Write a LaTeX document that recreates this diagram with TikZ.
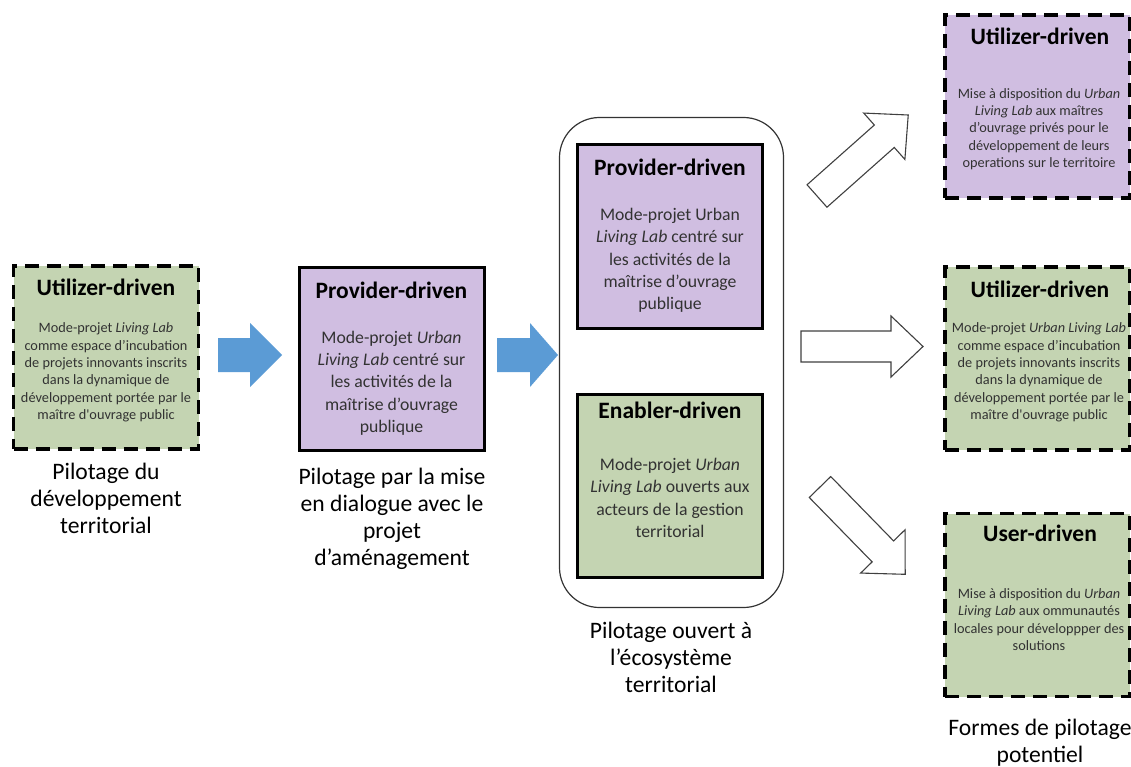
\documentclass[tikz,border=0pt]{standalone}
\usepackage{fontspec}
\setmainfont{Carlito}
\definecolor{boxgreen}{RGB}{196,212,178}
\definecolor{boxpurple}{RGB}{208,190,225}
\definecolor{arrowblue}{RGB}{91,155,213}
\definecolor{bodygray}{RGB}{50,50,50}
\begin{document}
\begin{tikzpicture}[x=1pt,y=-1pt,
  box/.style={draw=black, line width=3pt, inner sep=0pt, minimum width=185pt, minimum height=183pt},
  dbox/.style={box, line width=3.5pt, dash pattern=on 14pt off 8pt},
  gfill/.style={fill=boxgreen},
  pfill/.style={fill=boxpurple},
  head/.style={font=\fontsize{23.5}{28}\selectfont\bfseries, text=black, inner sep=0pt},
  bodys/.style={font=\fontsize{14.3}{17.3}\selectfont, text=bodygray, align=center, inner sep=0pt},
  bodyl/.style={font=\fontsize{17.7}{22.3}\selectfont, text=bodygray, align=center, inner sep=0pt},
  lab/.style={font=\fontsize{23.6}{27}\selectfont, text=black, align=center, inner sep=0pt},
  harrow/.style={draw=black!75, line width=1.1pt, fill=white, line join=miter},
  barrow/.style={fill=arrowblue}
]
\useasboundingbox (0,0) rectangle (1131,767);

% container
\node[draw=black!80, line width=1.2pt, rounded corners=40pt, minimum width=224pt, minimum height=490pt] (cont) at (671.5,362.5) {};

% boxes
\node[dbox, gfill] (b1) at (106,357.5) {};
\node[box, pfill] (b2) at (391.5,359) {};
\node[box, pfill] (b3) at (670,236.5) {};
\node[box, gfill] (b4) at (670,486) {};
\node[dbox, pfill] (tr) at (1037.5,106.5) {};
\node[dbox, gfill] (mr) at (1037.5,358.5) {};
\node[dbox, gfill] (br) at (1037.5,605) {};

% headings
\node[head] (h1) at (106,287) {Utilizer-driven};
\node[head] (h2) at (391.5,290) {Provider-driven};
\node[head] (h3) at (670,167) {Provider-driven};
\node[head] (h4) at (670,410) {Enabler-driven};
\node[head] (h5) at (1040,36) {Utilizer-driven};
\node[head] (h6) at (1040,289) {Utilizer-driven};
\node[head] (h7) at (1040,533) {User-driven};

% bodies
\node[bodys] (t1) at (106,372.5) {Mode-projet \textit{Living Lab}\\comme espace d’incubation\\de projets innovants inscrits\\dans la dynamique de\\développement portée par le\\maître d\textquotesingle ouvrage public};
\node[bodyl] (t2) at (391.5,383) {Mode-projet \textit{Urban}\\\textit{Living Lab} centré sur\\les activités de la\\maîtrise d’ouvrage\\publique};
\node[bodyl] (t3) at (670,260.5) {Mode-projet Urban\\\textit{Living Lab} centré sur\\les activités de la\\maîtrise d’ouvrage\\publique};
\node[bodyl] (t4) at (670,498) {Mode-projet \textit{Urban}\\\textit{Living Lab} ouverts aux\\acteurs de la gestion\\territorial};
\node[bodys] (t5) at (1039,129) {Mise à disposition du \textit{Urban}\\\textit{Living Lab} aux maîtres\\d’ouvrage privés pour le\\développement de leurs\\operations sur le territoire};
\node[bodys] (t6) at (1039,372.5) {Mode-projet \textit{Urban Living Lab}\\comme espace d’incubation\\de projets innovants inscrits\\dans la dynamique de\\développement portée par le\\maître d\textquotesingle ouvrage public};
\node[bodys] (t7) at (1039,619.5) {Mise à disposition du \textit{Urban}\\\textit{Living Lab} aux ommunautés\\locales pour développper des\\solutions};

% labels
\node[lab] (l1) at (106,498) {Pilotage du\\développement\\territorial};
\node[lab] (l2) at (392,519) {Pilotage par la mise\\en dialogue avec le\\projet\\d’aménagement};
\node[lab] (l3) at (671,657) {Pilotage ouvert à\\l’écosystème\\territorial};
\node[lab] (l4) at (1040,743) {Formes de pilotage\\potentiel};

% blue arrows
\fill[barrow] (218,338) -- (250,338) -- (250,323) -- (282,355) -- (250,387) -- (250,372) -- (218,372) -- cycle;
\fill[barrow] (497,338) -- (530,338) -- (530,323) -- (558,355) -- (530,387) -- (530,372) -- (497,372) -- cycle;

% hollow arrows
\draw[harrow, shift={(817,196)}, rotate=41.6] (0,-15) -- (90,-15) -- (90,-31) -- (122,0) -- (90,31) -- (90,15) -- (0,15) -- cycle;
\draw[harrow, shift={(801,346.5)}] (0,-15.5) -- (90,-15.5) -- (90,-30.5) -- (122,0) -- (90,30.5) -- (90,15.5) -- (0,15.5) -- cycle;
\draw[harrow, shift={(820,487)}, rotate=-45.7] (0,-15) -- (90,-15) -- (90,-31) -- (122,0) -- (90,31) -- (90,15) -- (0,15) -- cycle;
\end{tikzpicture}
\end{document}
